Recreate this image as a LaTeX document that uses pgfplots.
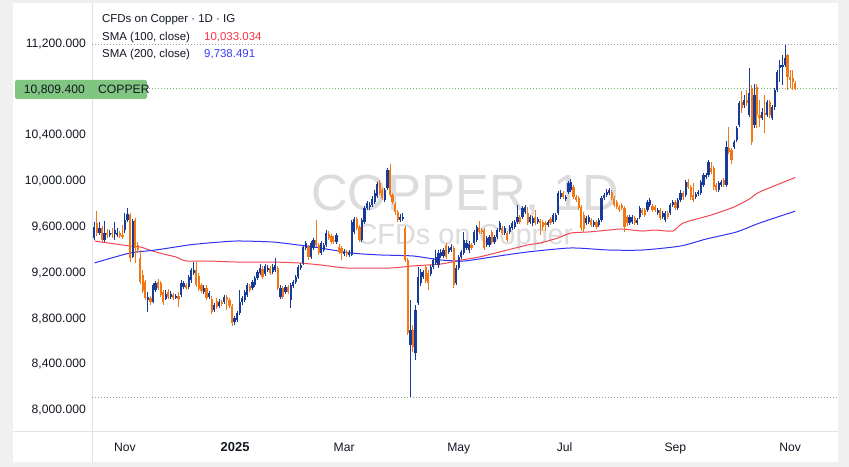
\documentclass[border=0pt]{standalone}
\usepackage{pgfplots}
\pgfplotsset{compat=1.18}
\usepackage{pgfplotstable}
\usepackage{fontspec}
\setmainfont{Liberation Sans}
\definecolor{upc}{RGB}{24,58,152}
\definecolor{dnc}{RGB}{242,118,18}
\definecolor{smared}{RGB}{242,70,85}
\definecolor{smablue}{RGB}{50,50,245}
\definecolor{txt}{RGB}{19,23,34}
\definecolor{wm}{RGB}{220,220,220}
\definecolor{outer}{RGB}{240,240,240}
\definecolor{sep}{RGB}{224,227,235}
\definecolor{lastg}{RGB}{128,198,128}
\definecolor{lastline}{RGB}{110,185,110}
\definecolor{redv}{RGB}{242,54,69}
\definecolor{bluev}{RGB}{60,60,250}

\pgfplotstableread{
i o h l c
0 9505 9644 9487 9601
1 9636 9740 9522 9548
2 9548 9644 9531 9592
3 9592 9609 9470 9487
4 9487 9653 9470 9548
5 9548 9583 9505 9531
6 9531 9574 9513 9548
7 9548 9592 9505 9539
8 9539 9644 9487 9574
9 9531 9592 9513 9548
10 9548 9566 9505 9522
11 9531 9618 9496 9513
12 9574 9723 9548 9662
13 9662 9767 9644 9714
14 9705 9723 9294 9330
15 9338 9671 9330 9653
16 9662 9679 9286 9417
17 9443 9470 9373 9399
18 9330 9399 9102 9120
19 9181 9225 9023 9041
20 9120 9137 8962 8980
21 8962 9032 8858 8988
22 8980 8997 8919 8945
23 8945 9111 8936 9093
24 9050 9128 9032 9111
25 9120 9146 9050 9067
26 9111 9128 8988 9006
27 9032 9050 8919 8945
28 8971 9050 8962 9015
29 9032 9058 8971 8988
30 8988 9041 8971 9015
31 9006 9023 8962 8980
32 8980 9015 8971 8997
33 8997 9032 8901 8971
34 9006 9137 8988 9111
35 9076 9128 9058 9111
36 9093 9111 9050 9067
37 9076 9181 9058 9163
38 9137 9242 9111 9225
39 9198 9294 9181 9225
40 9225 9294 9076 9093
41 9172 9198 9041 9058
42 9093 9111 9023 9041
43 9032 9093 9015 9067
44 9067 9093 8962 8980
45 8988 9041 8971 9023
46 8971 8997 8840 8858
47 8875 8936 8858 8919
48 8954 8980 8884 8901
49 8910 8971 8892 8945
50 8945 8962 8910 8927
51 8945 9006 8927 8988
52 8988 9006 8875 8962
53 8962 8980 8892 8910
54 8910 8927 8735 8761
55 8770 8823 8744 8805
56 8788 8866 8770 8849
57 8849 9050 8831 8945
58 8945 8997 8919 8980
59 8962 9050 8945 9032
60 9006 9111 8988 9093
61 9085 9102 9032 9050
62 9067 9137 9050 9120
63 9093 9172 9076 9155
64 9155 9225 9137 9207
65 9198 9277 9181 9242
66 9233 9260 9146 9163
67 9190 9277 9172 9260
68 9225 9268 9207 9242
69 9242 9260 9181 9198
70 9207 9277 9190 9251
71 9225 9330 9207 9268
72 9242 9260 9050 9067
73 8988 9093 8971 9067
74 9067 9085 8971 8988
75 9032 9093 9015 9076
76 9076 9093 9015 9032
77 8962 9111 8892 9093
78 9085 9137 9067 9120
79 9120 9181 9102 9163
80 9163 9268 9146 9251
81 9242 9286 9225 9268
82 9286 9443 9268 9426
83 9417 9478 9399 9461
84 9426 9443 9312 9338
85 9338 9478 9321 9461
86 9417 9505 9399 9487
87 9487 9662 9426 9443
88 9443 9461 9356 9373
89 9373 9478 9356 9461
90 9399 9461 9382 9443
91 9443 9574 9426 9548
92 9539 9566 9487 9505
93 9522 9539 9452 9470
94 9487 9522 9452 9478
95 9470 9548 9452 9531
96 9426 9452 9364 9382
97 9417 9435 9312 9373
98 9364 9408 9347 9382
99 9382 9399 9338 9364
100 9356 9399 9338 9373
101 9356 9662 9347 9644
102 9557 9688 9539 9671
103 9671 9688 9574 9592
104 9601 9618 9470 9487
105 9487 9679 9470 9662
106 9644 9784 9627 9767
107 9767 9828 9749 9810
108 9775 9819 9749 9793
109 9793 9872 9775 9845
110 9819 9924 9802 9898
111 9872 9994 9854 9976
112 9985 10011 9880 9898
113 9924 9941 9836 9854
114 9836 9941 9819 9924
115 9941 10116 9924 10099
116 10099 10151 9863 9880
117 9880 9898 9802 9819
118 9802 9819 9705 9732
119 9732 9749 9644 9662
120 9662 9714 9644 9688
121 9671 9723 9653 9688
122 9592 9609 9294 9312
123 9312 9330 8657 8674
124 8569 8962 8114 8700
125 8700 8744 8508 8552
126 8499 8919 8438 8875
127 8936 9251 8919 9163
128 9111 9233 9085 9207
129 9163 9225 9146 9207
130 9251 9268 9111 9128
131 9198 9225 9050 9111
132 9190 9268 9172 9251
133 9251 9330 9233 9312
134 9286 9399 9268 9338
135 9268 9399 9242 9373
136 9347 9408 9330 9382
137 9347 9417 9330 9399
138 9443 9461 9321 9338
139 9382 9435 9364 9417
140 9399 9452 9382 9426
141 9417 9435 9067 9093
142 9111 9268 9093 9242
143 9242 9356 9225 9338
144 9338 9399 9321 9382
145 9373 9557 9356 9487
146 9417 9487 9399 9461
147 9399 9478 9373 9452
148 9443 9461 9399 9417
149 9461 9574 9443 9557
150 9487 9618 9470 9601
151 9592 9653 9539 9557
152 9574 9592 9539 9557
153 9574 9592 9399 9417
154 9443 9522 9426 9505
155 9443 9531 9426 9513
156 9557 9574 9452 9470
157 9470 9531 9452 9513
158 9513 9592 9496 9574
159 9574 9653 9557 9636
160 9592 9609 9531 9548
161 9548 9609 9531 9592
162 9548 9566 9470 9487
163 9557 9618 9539 9601
164 9592 9653 9574 9636
165 9601 9662 9583 9644
166 9644 9793 9627 9688
167 9688 9705 9627 9644
168 9688 9784 9671 9767
169 9732 9793 9714 9775
170 9723 9775 9618 9636
171 9644 9705 9627 9688
172 9636 9697 9609 9679
173 9688 9749 9618 9636
174 9644 9688 9627 9671
175 9653 9671 9531 9636
176 9644 9662 9574 9601
177 9636 9653 9566 9618
178 9618 9662 9601 9644
179 9671 9688 9618 9636
180 9644 9723 9627 9705
181 9662 9723 9644 9705
182 9723 9915 9705 9898
183 9863 9924 9845 9898
184 9898 9915 9845 9863
185 9845 9880 9828 9863
186 9906 10003 9889 9985
187 9924 10020 9906 9994
188 9950 9968 9845 9863
189 9863 9880 9819 9836
190 9854 9872 9749 9767
191 9775 9793 9566 9592
192 9705 9732 9557 9583
193 9636 9697 9618 9679
194 9644 9705 9627 9688
195 9662 9679 9601 9618
196 9618 9662 9601 9644
197 9644 9662 9583 9601
198 9618 9679 9601 9662
199 9662 9872 9644 9854
200 9854 9898 9836 9880
201 9880 9933 9863 9906
202 9898 9941 9880 9924
203 9906 9924 9836 9854
204 9854 9872 9775 9793
205 9819 9836 9758 9775
206 9775 9793 9732 9749
207 9793 9810 9749 9767
208 9767 9784 9557 9601
209 9688 9705 9609 9636
210 9636 9705 9618 9688
211 9644 9705 9627 9688
212 9679 9697 9618 9636
213 9636 9679 9618 9662
214 9688 9784 9671 9767
215 9749 9767 9705 9723
216 9749 9767 9688 9705
217 9749 9836 9732 9819
218 9793 9854 9775 9836
219 9784 9802 9732 9749
220 9775 9793 9732 9749
221 9723 9767 9705 9749
222 9749 9767 9662 9679
223 9688 9740 9671 9723
224 9662 9740 9644 9723
225 9723 9740 9671 9688
226 9723 9810 9705 9793
227 9793 9836 9775 9819
228 9819 9836 9749 9767
229 9767 9854 9749 9836
230 9836 9924 9819 9898
231 9898 9915 9836 9863
232 9880 10011 9863 9994
233 9994 10020 9933 9950
234 9950 9968 9836 9863
235 9880 9985 9819 9836
236 9863 9906 9845 9889
237 9889 9924 9872 9906
238 9898 10011 9880 9994
239 9968 10073 9950 10055
240 10038 10073 10020 10055
241 10055 10186 10038 10169
242 10116 10169 10064 10081
243 10116 10134 9924 9950
244 9968 9985 9906 9924
245 9924 10003 9906 9985
246 9968 10011 9950 9994
247 10011 10029 9950 9968
248 9968 10352 9950 10300
249 10291 10475 10239 10256
250 10274 10291 10151 10186
251 10300 10361 10282 10344
252 10361 10483 10344 10466
253 10492 10702 10475 10684
254 10693 10789 10597 10641
255 10667 10754 10641 10711
256 10711 10798 10658 10684
257 10580 10990 10562 10772
258 10815 10842 10317 10344
259 10492 10850 10466 10754
260 10824 10850 10466 10580
261 10580 10711 10475 10553
262 10553 10641 10536 10606
263 10597 10754 10422 10580
264 10580 10711 10562 10693
265 10693 10711 10553 10580
266 10553 10667 10536 10649
267 10649 10815 10623 10798
268 10798 10973 10780 10955
269 10990 11060 10868 11016
270 10999 11104 10842 11016
271 11016 11195 10999 11078
272 11104 11113 10798 10912
273 10912 10973 10815 10885
274 10903 10973 10798 10868
275 10859 10877 10798 10809.4
}\candles

\pgfplotstableread{
i v
0 9478
14 9434
18 9426
24 9382
32 9338
36 9303
45 9303
56 9294
70 9294
80 9286
89 9268
99 9242
116 9242
125 9260
136 9277
144 9312
151 9338
162 9399
170 9443
175 9461
182 9505
187 9548
194 9557
202 9574
207 9583
215 9565
220 9574
227 9565
231 9635
242 9705
251 9775
257 9845
261 9906
275 10033.034
}\smaA

\pgfplotstableread{
i v
0 9286
14 9373
24 9399
37 9443
45 9461
56 9478
70 9469
80 9443
86 9426
101 9373
112 9356
125 9347
136 9312
145 9303
156 9338
170 9382
187 9417
202 9399
215 9399
230 9434
240 9495
252 9557
261 9635
275 9738.491
}\smaB

\begin{document}
\begin{tikzpicture}[x=1bp,y=1bp]
\fill[outer] (0,0) rectangle (849,467);
\fill[white] (13,5) rectangle (838,464);
\draw[sep, line width=1bp] (92,5) -- (92,464);
\draw[sep, line width=1bp] (13,35) -- (838,35);
\node[wm, font=\fontsize{51}{55}\selectfont, anchor=base, inner sep=0pt, text depth=0pt] at (465,256) {COPPER, 1D};
\node[wm, font=\fontsize{29}{32}\selectfont, anchor=base, inner sep=0pt, text height=20bp] at (465,222) {CFDs on Copper};
\begin{axis}[
  at={(92bp,35bp)}, anchor=south west,
  scale only axis, width=745bp, height=428bp,
  xmin=-0.94, xmax=291.4, ymin=7808.5, ymax=11549.6,
  axis line style={draw=none},
  major tick length=0pt,
  tick style={draw=none},
  xtick={12,55.2,98,143,184.5,228,273},
  xticklabels={Nov,{\fontsize{13}{15}\selectfont\bfseries 2025},Mar,May,Jul,Sep,Nov},
  ytick={8000,8400,8800,9200,9600,10000,10400,11200},
  scaled y ticks=false,
  /pgf/number format/fixed,
  /pgf/number format/fixed zerofill,
  /pgf/number format/precision=3,
  /pgf/number format/1000 sep={,},
  /pgf/number format/assume math mode=true,
  tick label style={font=\fontsize{12.2}{14}\selectfont, text=txt},
  yticklabel style={anchor=east, inner sep=0pt, xshift=-6bp},
  xticklabel style={anchor=base, inner sep=0pt, yshift=-20bp},
]
% price lines (high, low, last)
\draw[gray!80, line width=0.9bp, dash pattern=on 1bp off 2bp] (axis cs:-0.94,11195) -- (axis cs:291.4,11195);
\draw[gray!80, line width=0.9bp, dash pattern=on 1bp off 2bp] (axis cs:-0.94,8114) -- (axis cs:291.4,8114);
\draw[lastline, line width=0.9bp, dash pattern=on 1bp off 2bp] (axis cs:-0.94,10809.4) -- (axis cs:291.4,10809.4);
% SMA lines
\addplot[smared, line width=1bp, smooth, tension=0.4, mark=none] table[x=i, y=v] {\smaA};
\addplot[smablue, line width=1bp, smooth, tension=0.4, mark=none] table[x=i, y=v] {\smaB};
% up candles: wicks and bodies
\addplot[draw=upc, line width=1bp, mark=none, -,
  restrict expr to domain={\thisrow{c}-\thisrow{o}}{0:100000},
  quiver={u=0, v={\thisrow{h}-\thisrow{l}}, scale arrows=1}]
  table[x=i, y=l] {\candles};
\addplot[draw=upc, line width=2.2bp, line cap=butt, mark=none, -,
  restrict expr to domain={\thisrow{c}-\thisrow{o}}{0:100000},
  quiver={u=0, v={max(\thisrow{c}-\thisrow{o},8)}, scale arrows=1}]
  table[x=i, y=o] {\candles};
% down candles: wicks and bodies
\addplot[draw=dnc, line width=1bp, mark=none, -,
  restrict expr to domain={\thisrow{o}-\thisrow{c}}{0.001:100000},
  quiver={u=0, v={\thisrow{h}-\thisrow{l}}, scale arrows=1}]
  table[x=i, y=l] {\candles};
\addplot[draw=dnc, line width=2.2bp, line cap=butt, mark=none, -,
  restrict expr to domain={\thisrow{o}-\thisrow{c}}{0.001:100000},
  quiver={u=0, v={max(\thisrow{o}-\thisrow{c},8)}, scale arrows=1}]
  table[x=i, y=c] {\candles};
\end{axis}
% last price label
\fill[lastg, rounded corners=2bp] (15,368) rectangle (147,387);
\node[anchor=base east, inner sep=0pt, text=txt, font=\fontsize{12.2}{14}\selectfont] at (85,373) {10,809.400};
\node[anchor=base west, inner sep=0pt, text=txt, font=\fontsize{12.2}{14}\selectfont] at (98,373) {COPPER};
% legend
\node[anchor=base west, inner sep=1bp, fill=white, text=txt, font=\fontsize{11.5}{13}\selectfont] at (101,444) {CFDs on Copper · 1D · IG};
\node[anchor=base west, inner sep=1bp, fill=white, text=txt, font=\fontsize{11.5}{13}\selectfont] at (101,426) {SMA (100, close)};
\node[anchor=base west, inner sep=1bp, fill=white, text=redv, font=\fontsize{11.5}{13}\selectfont] at (203,426) {10,033.034};
\node[anchor=base west, inner sep=1bp, fill=white, text=txt, font=\fontsize{11.5}{13}\selectfont] at (101,409) {SMA (200, close)};
\node[anchor=base west, inner sep=1bp, fill=white, text=bluev, font=\fontsize{11.5}{13}\selectfont] at (203,409) {9,738.491};
\pgfresetboundingbox
\useasboundingbox (0,0) rectangle (849,467);
\end{tikzpicture}
\end{document}
